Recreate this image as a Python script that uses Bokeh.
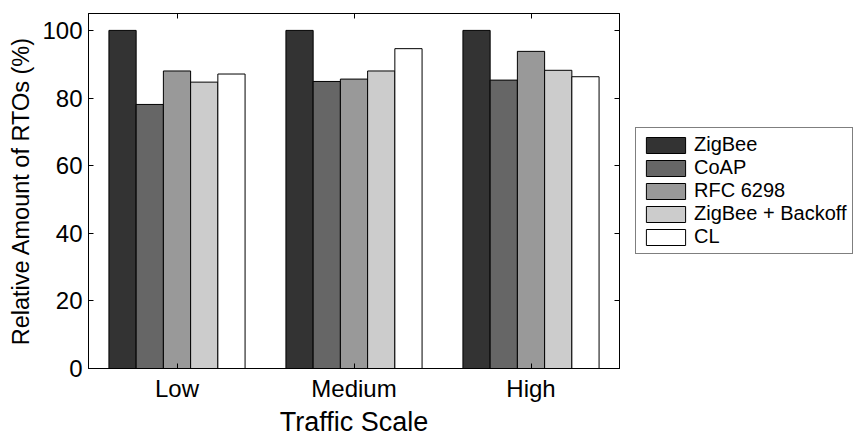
from bokeh.plotting import figure
from bokeh.models import FixedTicker, LinearAxis, Legend, LegendItem, Range1d
from bokeh.layouts import row
from bokeh.embed import file_html
from bokeh.resources import INLINE

categories = ["Low", "Medium", "High"]
series = ["ZigBee", "CoAP", "RFC 6298", "ZigBee + Backoff", "CL"]
zigbee = [100.0, 100.0, 100.0]
coap = [78.1, 84.9, 85.3]
rfc6298 = [88.0, 85.6, 93.8]
zigbee_backoff = [84.7, 88.0, 88.2]
cl = [87.1, 94.6, 86.3]
values = [zigbee, coap, rfc6298, zigbee_backoff, cl]
colors = ["#333333", "#666666", "#999999", "#cccccc", "#ffffff"]
y_ticks = [0, 20, 40, 60, 80, 100]

FONT = "Liberation Sans"

p = figure(width=621, height=439, x_range=Range1d(0.5, 3.5), y_range=Range1d(0, 105),
           output_backend="svg", toolbar_location=None,
           min_border_left=88, min_border_right=2, min_border_top=13, min_border_bottom=71)
p.xgrid.visible = False
p.ygrid.visible = False
p.outline_line_color = "black"
p.background_fill_color = "white"
p.border_fill_color = "white"

n = len(series)
group_width = min(0.8, n / (n + 1.5))
bw = group_width / n
positions = list(range(1, len(categories) + 1))

for i, (name, vals, col) in enumerate(zip(series, values, colors)):
    xs = [g + (i - (n - 1) / 2) * bw for g in positions]
    p.vbar(x=xs, top=vals, width=bw, bottom=0, fill_color=col,
           line_color="black", line_width=1)

def style(ax, labels=True):
    ax.axis_line_color = "black"
    ax.axis_line_width = 1
    ax.major_tick_in = 5
    ax.major_tick_out = 0
    ax.minor_tick_in = 0
    ax.minor_tick_out = 0
    ax.major_tick_line_color = "black"
    ax.major_tick_line_width = 1
    ax.major_label_text_font = FONT
    ax.major_label_text_color = "black"
    ax.major_label_text_font_size = "24px" if labels else "1px"
    ax.major_label_standoff = 6 if labels else 0

xa = p.xaxis[0]
xa.ticker = FixedTicker(ticks=positions)
xa.major_label_overrides = {pos: c for pos, c in zip(positions, categories)}
style(xa)
xa.axis_label = "Traffic Scale"
xa.axis_label_text_font = FONT
xa.axis_label_text_font_size = "27px"
xa.axis_label_text_font_style = "normal"
xa.axis_label_text_color = "black"
xa.axis_label_standoff = 2

ya = p.yaxis[0]
ya.ticker = FixedTicker(ticks=y_ticks)
style(ya)
ya.axis_label = "Relative Amount of RTOs (%)"
ya.axis_label_text_font = FONT
ya.axis_label_text_font_size = "23.5px"
ya.axis_label_text_font_style = "normal"
ya.axis_label_text_color = "black"
ya.axis_label_standoff = 5

top_ax = LinearAxis(ticker=FixedTicker(ticks=positions),
                    major_label_overrides={pos: "" for pos in positions})
style(top_ax, labels=False)
p.add_layout(top_ax, "above")
right_ax = LinearAxis(ticker=FixedTicker(ticks=y_ticks),
                      major_label_overrides={t: "" for t in y_ticks})
style(right_ax, labels=False)
p.add_layout(right_ax, "right")

# legend panel (bars drawn out of view; only the legend is visible)
pl = figure(width=234, height=439, x_range=Range1d(-1, 0), y_range=Range1d(-1, 0),
            output_backend="svg", toolbar_location=None,
            x_axis_location=None, y_axis_location=None,
            min_border_left=0, min_border_right=0, min_border_top=0, min_border_bottom=0)
pl.xgrid.visible = False
pl.ygrid.visible = False
pl.outline_line_color = None
pl.border_fill_color = "white"

items = []
for i, (name, vals, col) in enumerate(zip(series, values, colors)):
    xs = [g + (i - (n - 1) / 2) * bw for g in positions]
    r = pl.vbar(x=xs, top=vals, width=bw, bottom=0, fill_color=col,
                line_color="black", line_width=1)
    items.append(LegendItem(label=name, renderers=[r]))

legend = Legend(items=items, location=(14, 114), padding=5, spacing=0, margin=0,
                glyph_width=49, glyph_height=20, label_height=20, label_standoff=4,
                border_line_color="black", border_line_width=1,
                label_text_font=FONT, label_text_font_size="20px",
                label_text_color="black", background_fill_color="white",
                background_fill_alpha=1)
pl.add_layout(legend)

layout = row(p, pl, spacing=0)
open("out.html", "w").write(file_html(layout, INLINE))
